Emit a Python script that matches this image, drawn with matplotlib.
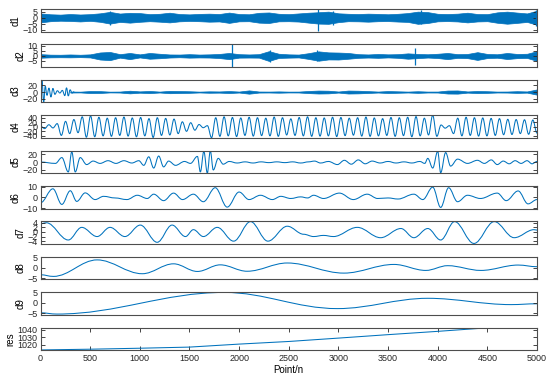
import numpy as np
import matplotlib
matplotlib.use('Agg')
import matplotlib.pyplot as plt
from matplotlib.path import Path
from matplotlib.patches import PathPatch

plt.rcParams['font.family'] = ['Liberation Sans', 'DejaVu Sans']

# ---------------- values ----------------
# d1 / d2: dense noise bands, upper and lower envelope every 100 points
d1_up = [3.5, 2.8, 2.5, 3.0, 2.6, 2.9, 3.6, 4.8, 3.4, 4.0, 3.8, 2.9, 3.2, 4.1, 3.0, 2.7, 3.1,
         3.3, 3.0, 4.2, 3.0, 2.8, 4.0, 4.3, 3.2, 2.9, 3.5, 4.1, 4.5, 5.0, 3.6, 3.2, 3.0, 3.3,
         3.1, 2.8, 3.2, 3.8, 5.0, 4.6, 3.2, 3.0, 3.3, 4.1, 3.0, 2.9, 4.4, 5.0, 4.2, 3.5, 5.8]
d1_lo = [-4.0, -3.0, -2.6, -2.8, -3.2, -2.7, -3.5, -5.0, -3.6, -4.2, -3.5, -3.0, -3.4, -4.0,
         -3.1, -2.8, -3.0, -3.4, -3.2, -4.4, -3.1, -3.0, -4.2, -4.5, -3.1, -3.0, -3.3, -4.2,
         -5.0, -5.2, -3.8, -3.0, -3.1, -3.4, -3.0, -2.9, -3.3, -3.6, -5.2, -4.5, -3.1, -2.9,
         -3.2, -4.0, -3.2, -3.0, -4.3, -5.1, -4.4, -3.6, -6.0]
d1_spikes = [(700, 5.5, -5.8), (2790, 7.2, -11.5), (2950, 5.8, -6.0), (3830, 6.0, -5.5),
             (4990, 6.5, -7.0)]

d2_up = [1.8, 1.3, 1.2, 1.5, 1.2, 1.6, 3.5, 4.0, 1.8, 3.0, 1.6, 3.0, 2.2, 1.5, 1.4, 1.8, 1.4,
         1.6, 2.0, 3.0, 1.8, 1.5, 1.8, 4.8, 2.2, 1.6, 1.4, 2.8, 4.6, 3.6, 3.4, 3.0, 1.8, 1.5,
         2.0, 1.6, 1.8, 2.6, 2.0, 1.7, 2.2, 3.0, 1.8, 2.0, 3.8, 2.0, 1.7, 3.0, 2.0, 2.2, 4.8]
d2_lo = [-1.8, -1.4, -1.3, -1.4, -1.2, -1.5, -3.6, -4.2, -1.7, -3.2, -1.5, -2.8, -2.3, -1.6,
         -1.3, -1.7, -1.5, -1.6, -2.1, -3.2, -1.7, -1.6, -1.7, -5.0, -2.0, -1.7, -1.5, -3.0,
         -4.8, -3.5, -3.6, -2.8, -1.9, -1.6, -1.9, -1.5, -1.9, -2.8, -2.2, -1.6, -2.1, -3.2,
         -1.9, -2.2, -4.0, -2.1, -1.8, -3.1, -2.2, -2.0, -5.0]
d2_spikes = [(1930, 11.6, -11.0), (2310, 5.5, -5.8), (2780, 5.5, -5.0), (3770, 8.0, -9.0)]

# d3: large start (extrema), then a thin band (half width every 100 points from 300)
d3_start = [(0, 4), (15, 36), (32, -31), (48, 18), (65, -10), (85, 12), (105, -15), (125, 11),
            (145, -7), (170, 4), (195, -3), (220, 5), (245, -11), (262, 13), (280, -12),
            (298, 7), (318, -3), (340, 1)]
d3_amp = [1.5, 1.2, 3.0, 2.8, 1.2, 1.5, 4.0, 2.0, 3.2, 1.4, 3.5, 3.0, 2.4, 1.3, 2.2, 1.8, 3.0,
          1.5, 5.0, 1.6, 1.4, 2.0, 1.3, 1.4, 3.2, 4.5, 4.0, 1.6, 4.5, 4.0, 2.8, 1.5, 3.0, 2.2,
          1.4, 2.5, 1.4, 1.5, 4.5, 4.8, 1.8, 3.2, 2.5, 1.4, 1.6, 2.6, 1.8, 8.0]

# d4: successive extrema (evenly spread over 0..5000)
d4_ext = [3, -8, 9, -5,
          14, -38, 24, -30, 32, -26,
          44, -46, 48, -44,
          42, -40, 38, -42, 40, -38, 43, -41, 39, -44, 41, -40, 36, -47, 40, -38, 37, -36, 34, -30,
          22, -20, 18, -15, 10,
          -4, 5,
          -48,
          40, -42, 44, -40, 41, -43, 39, -38, 42, -41, 40, -39, 38, -40, 43, -42, 40, -36, 35, -38,
          41, -40, 44, -42, 40, -41, 39, -40, 42, -43, 41, -39, 38, -37, 40, -41, 43, -42, 39, -40,
          36, -38, 41, -42, 40, -39, 42, -44, 45, -40, 38, -36,
          51, -42,
          8, -6, 5,
          -30, 38, -40, 42, -38, 40, -41, 39, -40, 37, -38, 36, -35, 33, -34, 32, -30, 31, -33, 30, -28]

# d5 .. d9: extrema (point, value)
d5_ext = [(0, 0.5), (150, -3), (215, 12), (280, -25), (315, 27), (350, -25), (400, 12), (465, -6),
          (530, 3), (600, -3), (680, 4), (760, -3), (840, 4), (920, -2), (990, 4), (1040, -8),
          (1090, 14), (1140, -15), (1190, 16), (1240, -12), (1290, 3), (1360, -8), (1450, 2),
          (1510, -3), (1580, 15), (1610, -25), (1645, 28), (1680, -28), (1710, 30), (1740, -20),
          (1790, 10), (1840, -5), (1900, 2), (1980, -2), (2060, 1), (2140, -2), (2220, 1),
          (2300, -1), (2380, 1), (2460, -1), (2540, 1), (2620, -2), (2700, 1), (2760, 3),
          (2820, -2), (2900, 2), (2990, -6), (3060, 5), (3130, -5), (3200, 6), (3270, -4),
          (3340, 3), (3420, -2), (3500, 2), (3580, -2), (3660, 1), (3740, -2), (3820, 2),
          (3870, -3), (3900, 10), (3950, -15), (4000, 28), (4030, -27), (4080, 25), (4130, -10),
          (4200, 8), (4300, -3), (4400, 5), (4470, -3), (4540, 6), (4600, -6), (4660, 3),
          (4720, -4), (4780, 4), (4840, -3), (4900, 4), (4950, -4), (5000, 2)]
d6_ext = [(0, -5), (125, 8), (215, -6.5), (300, 6.2), (365, -3.7), (450, 4.2), (550, -2),
          (635, 1), (750, -0.5), (870, -2), (975, 2), (1075, -1), (1140, 3), (1240, -3),
          (1340, 4), (1430, -2), (1540, 3), (1640, -4), (1760, 9), (1880, -9), (2000, 5),
          (2100, -2), (2215, 2), (2335, -2), (2420, 1), (2520, -1), (2620, 0.5), (2690, -0.5),
          (2750, 2), (2850, -1), (3010, 4), (3150, -2), (3290, 3), (3395, -1), (3500, -0.5),
          (3600, -1.5), (3760, 3), (3850, -2), (3950, 9.5), (4030, -9.3), (4110, 9), (4200, -4),
          (4300, 2), (4430, -1), (4600, 4), (4690, -3), (4810, 6), (4910, -6), (5000, -2)]
d7_ext = [(0, 3.6), (60, 4.0), (280, -3.5), (415, 2), (570, -2), (700, 2), (850, -2),
          (1005, 3), (1175, -4.5), (1325, 3), (1460, -2), (1540, 1), (1640, -2), (1780, 2),
          (1945, -4), (2115, 4.5), (2290, -4), (2485, 2.5), (2650, -1), (2750, -2), (2850, -1.5),
          (2950, -2), (3190, 2), (3425, -2.5), (3630, 1.5), (3760, -2.5), (3900, 1.5),
          (4030, -3.5), (4170, 4.5), (4365, -5), (4570, 4.5), (4770, -2.5), (4970, 1),
          (5000, 0.8)]
d8_ext = [(0, -3.4), (130, -4.2), (570, 3.8), (1025, -2.9), (1340, 1.9), (1580, -1.8),
          (1810, 1.4), (2080, -1.7), (2485, 2.3), (3055, -2.6), (3560, 1.6), (3880, -1.3),
          (4100, 1.0), (4435, -1.3), (4810, 1.3), (5000, 0.5)]
d9_ext = [(0, -4.7), (165, -5.3), (1850, 5.0), (2990, -2.7), (3900, 2.2), (4740, -0.8),
          (5000, -0.4)]

# residual trend
res_x = [0, 500, 1000, 1500, 2000, 2500, 3000, 3500, 4000, 4500, 5000]
res_y = [1013.2, 1014.2, 1015.5, 1017.0, 1021.0, 1024.5, 1029.0, 1033.6, 1038.0, 1042.7, 1043.0]

names = ['d1', 'd2', 'd3', 'd4', 'd5', 'd6', 'd7', 'd8', 'd9', 'res']
yticks = [[-10, -5, 0, 5], [-5, 0, 5, 10], [-20, 0, 20], [-40, -20, 0, 20, 40], [-20, 0, 20],
          [-10, 0, 10], [-4, -2, 0, 2, 4], [-5, 0, 5], [-5, 0, 5], [1020, 1030, 1040]]
ylims = [(-11.6, 7.2), (-11, 11.6), (-31, 37), (-48, 51), (-28, 30), (-10.3, 10.6),
         (-5.2, 4.6), (-5.6, 5.3), (-5.6, 5.1), (1013, 1043)]
xticks = [0, 500, 1000, 1500, 2000, 2500, 3000, 3500, 4000, 4500, 5000]

C = '#0072BD'
LW = 0.75


def smooth(ax, pts):
    # bezier through the extrema with flat tangents
    verts = [pts[0]]
    codes = [Path.MOVETO]
    for (x0, y0), (x1, y1) in zip(pts[:-1], pts[1:]):
        dx = x1 - x0
        verts += [(x0 + 0.364 * dx, y0), (x1 - 0.364 * dx, y1), (x1, y1)]
        codes += [Path.CURVE4] * 3
    ax.add_patch(PathPatch(Path(verts, codes), fill=False, edgecolor=C, lw=LW))


def band(ax, lo, up, spikes):
    x = np.linspace(0, 5000, len(up))
    ax.fill_between(x, lo, up, color=C, lw=0.5)
    if spikes:
        sx, su, sl = zip(*spikes)
        ax.vlines(sx, sl, su, color=C, lw=0.9)


fig = plt.figure(figsize=(5.5, 3.83), dpi=100)
W, H = 550, 383
left, right = 40.5, 537
top0, pitch, h = 9, 35.4, 22.5

axes = []
for i in range(10):
    t = top0 + i * pitch
    ax = fig.add_axes([left / W, 1 - (t + h) / H, (right - left) / W, h / H])
    axes.append(ax)

band(axes[0], d1_lo, d1_up, d1_spikes)
band(axes[1], d2_lo, d2_up, d2_spikes)

smooth(axes[2], d3_start)
a3 = np.array(d3_amp)
axes[2].fill_between(np.linspace(300, 5000, len(a3)), -a3, a3, color=C, lw=0.5)

smooth(axes[3], list(zip(np.linspace(0, 5000, len(d4_ext)), d4_ext)))
smooth(axes[4], d5_ext)
smooth(axes[5], d6_ext)
smooth(axes[6], d7_ext)
smooth(axes[7], d8_ext)
smooth(axes[8], d9_ext)
axes[9].plot(res_x, res_y, color=C, lw=LW)

for i, ax in enumerate(axes):
    ax.set_xlim(0, 5000)
    ax.set_ylim(*ylims[i])
    ax.set_yticks(yticks[i])
    ax.set_ylabel(names[i], fontsize=7, labelpad=1.5)
    for s in ax.spines.values():
        s.set_color('#4d4d4d')
        s.set_linewidth(0.8)
    ax.tick_params(axis='y', direction='in', length=3, width=0.6, left=True, right=True,
                   labelsize=6.5, pad=2, colors='#262626')
    if i < 9:
        ax.set_xticks([])
    else:
        ax.set_xticks(xticks)
        ax.tick_params(axis='x', direction='in', length=3, width=0.6, top=True, bottom=True,
                       labelsize=6.5, pad=3, colors='#262626')
        ax.set_xlabel('Point/n', fontsize=7, labelpad=1)

fig.savefig('out.png', dpi=100)
